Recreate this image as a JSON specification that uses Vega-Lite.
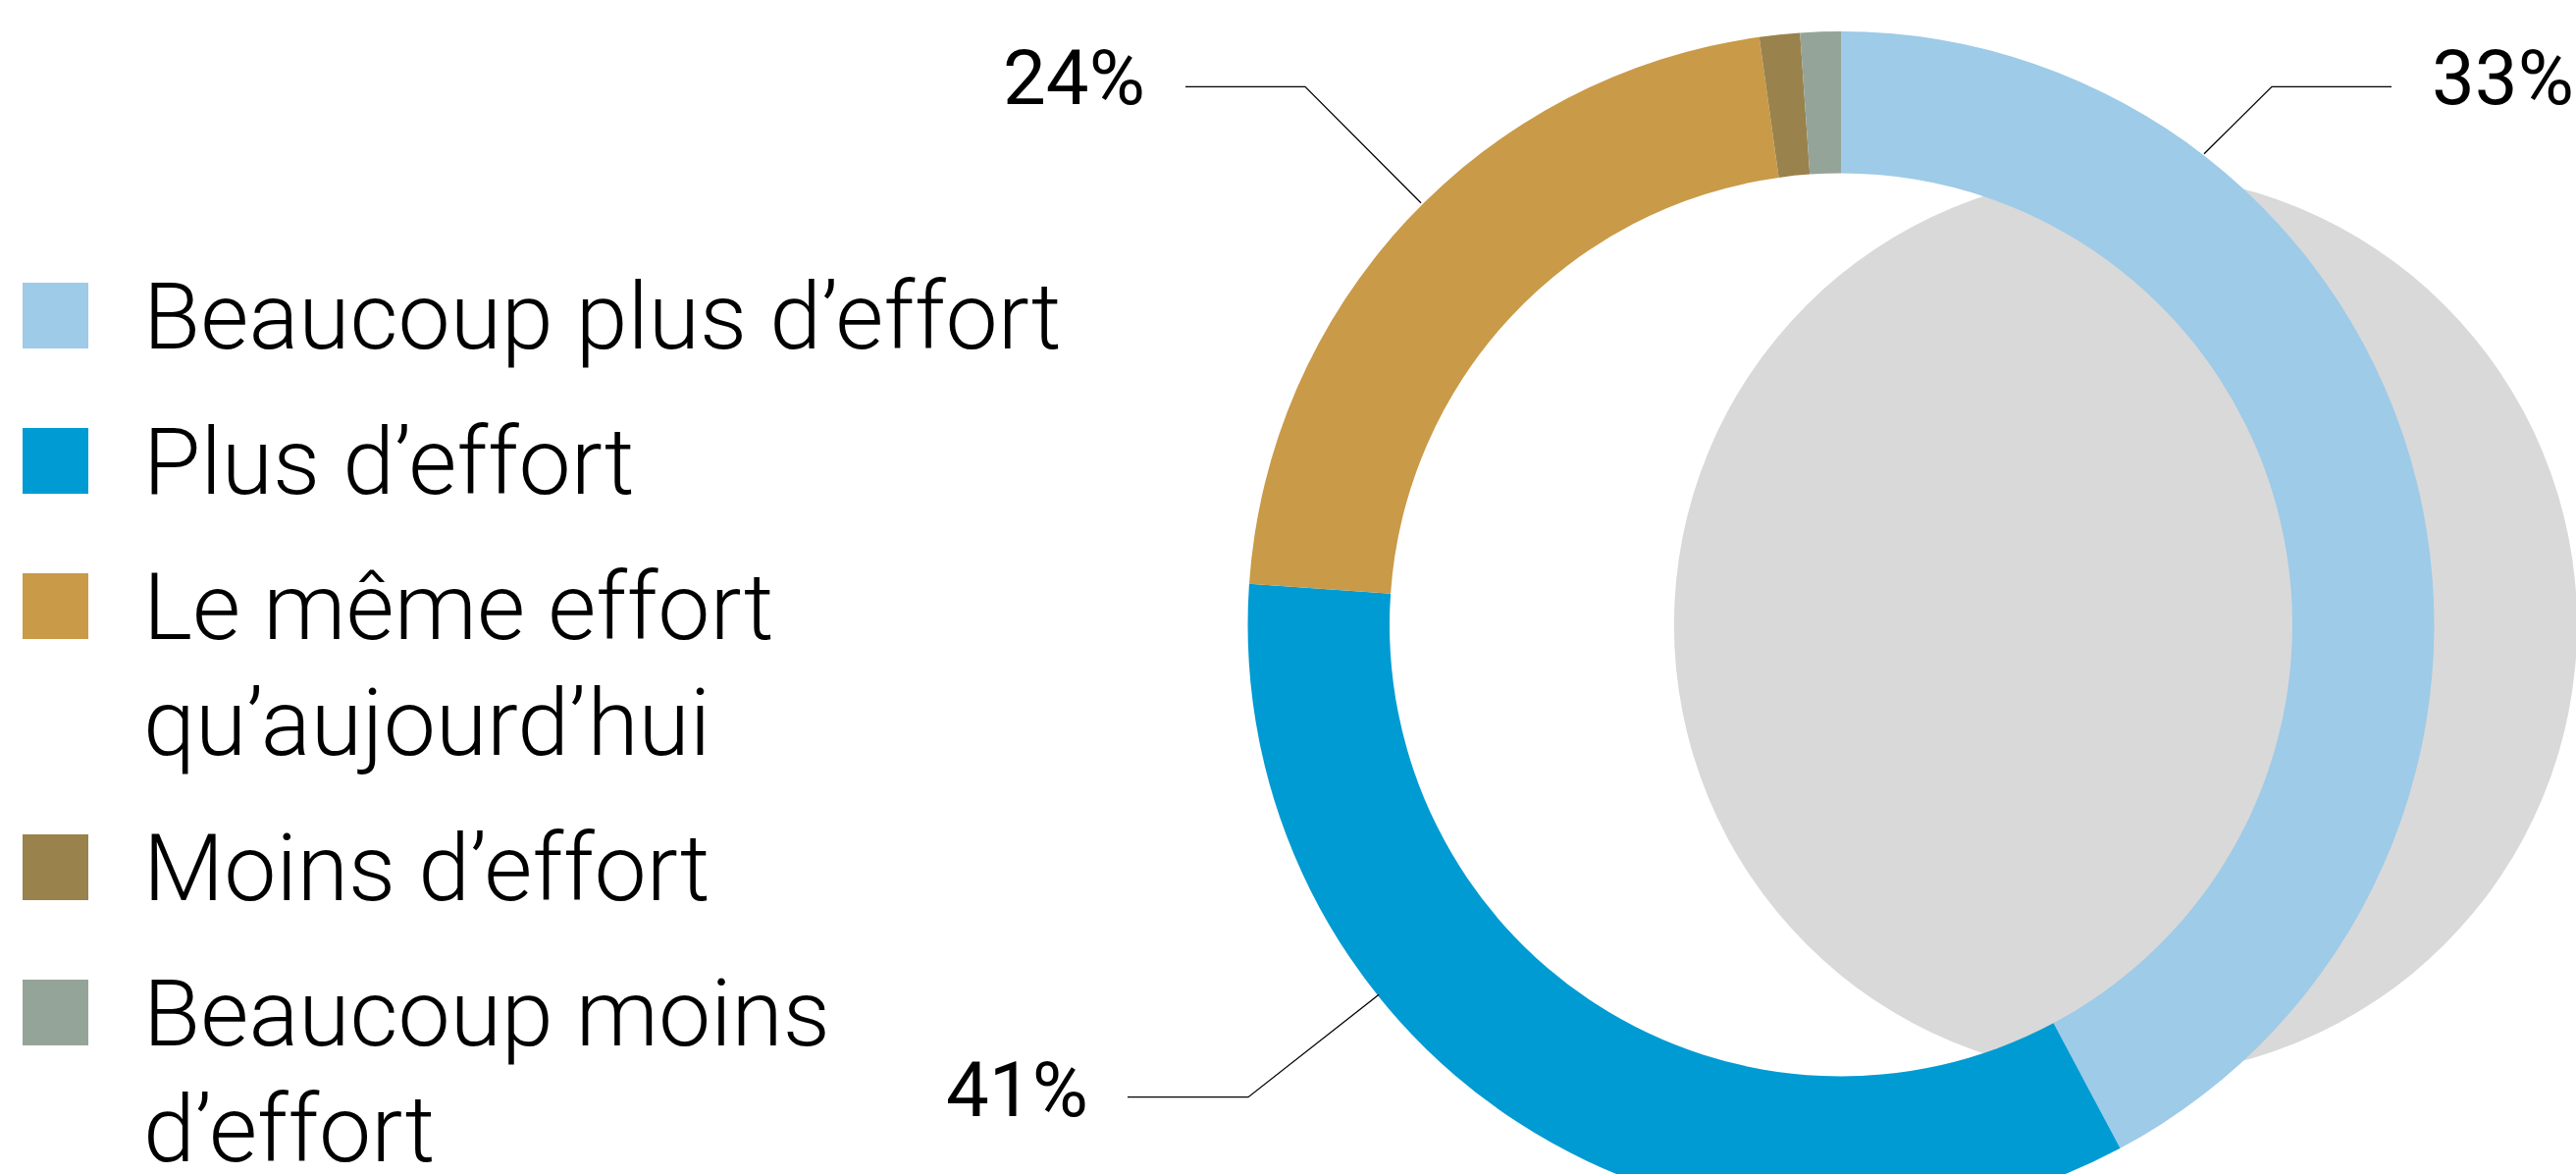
{
  "$schema": "https://vega.github.io/schema/vega-lite/v6.json",
  "width": 2625,
  "height": 1196,
  "autosize": {"type": "none"},
  "padding": 0,
  "background": "white",
  "config": {"view": {"stroke": null}, "font": "Roboto", "style": {"guide-label": {"lineHeight": 118}}},
  "datasets": {
    "shares": [
      {"category": "Beaucoup plus d’effort", "rank": 1, "share": 42.2},
      {"category": "Plus d’effort", "rank": 2, "share": 33.9},
      {"category": "Le même effort qu’aujourd’hui", "rank": 3, "share": 21.7},
      {"category": "Moins d’effort", "rank": 4, "share": 1.1},
      {"category": "Beaucoup moins d’effort", "rank": 5, "share": 1.1}
    ],
    "callouts": [
      {"category": "Beaucoup plus d’effort", "label": "33%", "lx": 2478, "ly": 106},
      {"category": "Plus d’effort", "label": "41%", "lx": 964, "ly": 1137},
      {"category": "Le même effort qu’aujourd’hui", "label": "24%", "lx": 1022, "ly": 106}
    ],
    "leaders": [
      {"callout": "33%", "pt": 1, "x": 2437, "y": 88.3},
      {"callout": "33%", "pt": 2, "x": 2315, "y": 88.3},
      {"callout": "33%", "pt": 3, "x": 2246, "y": 156.7},
      {"callout": "24%", "pt": 1, "x": 1208, "y": 88.3},
      {"callout": "24%", "pt": 2, "x": 1330, "y": 88.3},
      {"callout": "24%", "pt": 3, "x": 1448, "y": 206.7},
      {"callout": "41%", "pt": 1, "x": 1149, "y": 1117.7},
      {"callout": "41%", "pt": 2, "x": 1272, "y": 1117.7},
      {"callout": "41%", "pt": 3, "x": 1405, "y": 1013.3}
    ]
  },
  "layer": [
    {
      "data": {"values": [{"element": "backdrop"}]},
      "mark": {"type": "arc", "radius": 460, "theta": 0, "theta2": 6.2832, "color": "#d9d9d9"},
      "encoding": {
        "x": {"datum": 2166, "type": "quantitative", "scale": {"domain": [0, 2625], "nice": false, "zero": false}, "axis": null},
        "y": {"datum": 636.5, "type": "quantitative", "scale": {"domain": [0, 1196], "nice": false, "zero": false, "reverse": true}, "axis": null}
      }
    },
    {
      "data": {"name": "shares"},
      "mark": {"type": "arc", "radius": 604.5, "radius2": 460},
      "encoding": {
        "x": {"datum": 1876, "type": "quantitative", "axis": null},
        "y": {"datum": 636.5, "type": "quantitative", "axis": null},
        "theta": {"field": "share", "type": "quantitative", "stack": true},
        "order": {"field": "rank", "type": "quantitative"},
        "color": {
          "field": "category",
          "type": "nominal",
          "scale": {
            "domain": ["Beaucoup plus d’effort", "Plus d’effort", "Le même effort qu’aujourd’hui", "Moins d’effort", "Beaucoup moins d’effort"],
            "range": ["#9dcbe8", "#009bd2", "#c99a48", "#9a824c", "#95a498"]
          },
          "legend": {
            "orient": "none",
            "legendX": 9,
            "legendY": 307.5,
            "title": null,
            "padding": 0,
            "symbolType": "M-1,-2H1V0H-1Z",
            "symbolSize": 4489,
            "symbolStrokeWidth": 0,
            "symbolOpacity": 1,
            "labelFont": "Roboto",
            "labelFontWeight": 300,
            "labelFontSize": 95,
            "labelColor": "#000000",
            "labelLimit": 0,
            "labelBaseline": "alphabetic",
            "labelOffset": 42,
            "rowPadding": 52,
            "encode": {"labels": {"update": {"lineHeight": {"value": 118}}}},
            "labelExpr": "datum.value == 'Le même effort qu’aujourd’hui' ? ['Le même effort', 'qu’aujourd’hui'] : datum.value == 'Beaucoup moins d’effort' ? ['Beaucoup moins', 'd’effort'] : datum.label"
          }
        }
      }
    },
    {
      "data": {"name": "leaders"},
      "mark": {"type": "line", "color": "#000000", "strokeWidth": 1.3},
      "encoding": {
        "x": {"field": "x", "type": "quantitative", "axis": null},
        "y": {"field": "y", "type": "quantitative", "axis": null},
        "detail": {"field": "callout", "type": "nominal"},
        "order": {"field": "pt", "type": "quantitative"}
      }
    },
    {
      "data": {"name": "callouts"},
      "mark": {"type": "text", "font": "Roboto", "fontSize": 78, "fontWeight": 400, "align": "left", "baseline": "alphabetic", "color": "#000000"},
      "encoding": {
        "x": {"field": "lx", "type": "quantitative", "axis": null},
        "y": {"field": "ly", "type": "quantitative", "axis": null},
        "text": {"field": "label", "type": "nominal"}
      }
    }
  ]
}
